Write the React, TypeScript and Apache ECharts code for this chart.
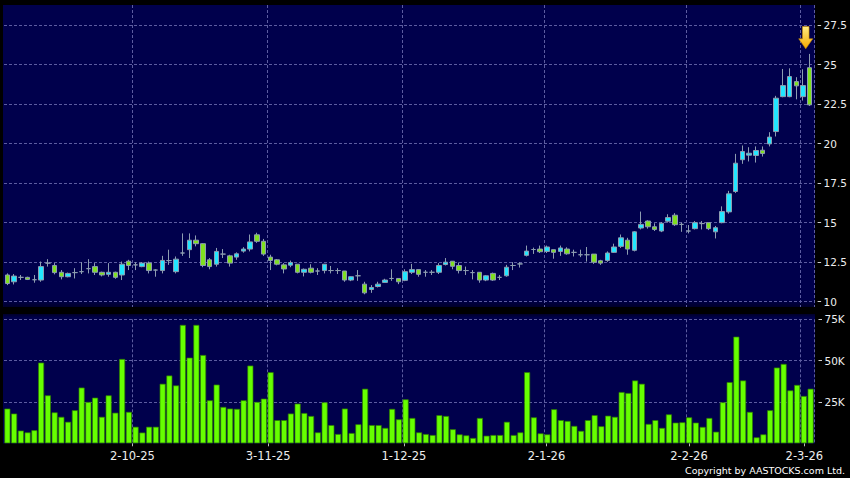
import React, { useEffect, useRef } from "react";
import * as echarts from "echarts";

// Trading days per month (day numbers)
const sep25 = [4, 5, 8, 9, 10, 11, 12, 15, 16, 17, 18, 19, 22, 23, 24, 25, 26, 29, 30];
const oct25 = [2, 3, 6, 8, 9, 10, 13, 14, 15, 16, 17, 20, 21, 22, 23, 24, 27, 28, 30, 31];
const nov25 = [3, 4, 5, 6, 7, 10, 11, 12, 13, 14, 17, 18, 19, 20, 21, 24, 25, 26, 27, 28];
const dec25 = [1, 2, 3, 4, 5, 8, 9, 10, 11, 12, 15, 16, 17, 18, 19, 22, 23, 24, 29, 30, 31];
const jan26 = [2, 5, 6, 7, 8, 9, 12, 13, 14, 15, 16, 19, 20, 21, 22, 23, 26, 27, 28, 29, 30];
const feb26 = [2, 3, 4, 5, 6, 9, 10, 11, 12, 13, 16, 20, 23, 24, 25, 26, 27];
const mar26 = [2, 3];

const categories: string[] = [
  ...sep25.map((d) => `${d}-9-25`),
  ...oct25.map((d) => `${d}-10-25`),
  ...nov25.map((d) => `${d}-11-25`),
  ...dec25.map((d) => `${d}-12-25`),
  ...jan26.map((d) => `${d}-1-26`),
  ...feb26.map((d) => `${d}-2-26`),
  ...mar26.map((d) => `${d}-3-26`),
];

const tickLabels = ["2-10-25", "3-11-25", "1-12-25", "2-1-26", "2-2-26", "2-3-26"];

const openP = [
  11.69, 11.26, 11.54, 11.54, 11.39, 11.37, 12.44, 12.29, 11.86, 11.58,
  11.84, 11.9, 12.09, 12.22, 11.86, 11.73, 11.86, 11.69, 12.56, 12.33,
  12.22, 12.44, 12.0, 11.97, 12.6, 11.9, 13.08, 13.29, 13.89, 13.67,
  12.65, 12.37, 13.01, 12.9, 12.82, 13.2, 13.33, 14.23, 13.82, 12.82,
  12.65, 12.33, 12.31, 12.37, 11.86, 12.12, 11.94, 11.97, 11.97, 11.97,
  11.94, 11.37, 11.64, 11.11, 10.77, 10.96, 11.22, 11.47, 11.47, 11.35,
  11.86, 12.03, 11.86, 11.86, 11.86, 12.35, 12.56, 12.29, 11.97, 11.84,
  11.86, 11.37, 11.79, 11.54, 11.64, 12.29, 12.39, 12.93, 13.3, 13.33,
  13.18, 13.29, 13.18, 13.33, 13.12, 12.97, 12.97, 13.01, 12.59, 12.61,
  13.12, 13.5, 13.89, 13.25, 14.66, 15.1, 14.74, 14.47, 15.09, 15.47,
  14.89, 14.47, 14.62, 14.94, 15.0, 14.42, 15.0, 15.68, 16.97, 18.98,
  19.27, 19.25, 19.58, 19.98, 20.76, 22.97, 22.97, 23.92, 22.97, 24.8,
];
const closeP = [
  11.15, 11.62, 11.54, 11.41, 11.39, 12.22, 12.44, 11.84, 11.58, 11.79,
  11.84, 11.9, 12.09, 11.86, 11.69, 11.86, 11.54, 12.37, 12.29, 12.33,
  12.44, 11.97, 12.0, 12.61, 12.6, 12.69, 13.08, 13.89, 13.67, 12.29,
  12.22, 13.18, 13.01, 12.44, 13.03, 13.33, 13.78, 13.82, 13.01, 12.61,
  12.37, 12.07, 12.48, 11.86, 12.05, 11.86, 11.94, 12.37, 11.97, 11.97,
  11.37, 11.58, 11.64, 10.56, 10.9, 11.11, 11.37, 11.47, 11.26, 11.9,
  12.03, 11.73, 11.86, 11.86, 12.29, 12.5, 12.24, 11.97, 11.97, 11.84,
  11.37, 11.64, 11.37, 11.54, 12.18, 12.29, 12.39, 13.2, 13.3, 13.16,
  13.46, 13.12, 13.4, 13.03, 13.12, 12.97, 12.97, 12.5, 12.44, 13.08,
  13.46, 14.04, 13.33, 14.42, 14.89, 14.74, 14.57, 14.96, 15.32, 14.87,
  14.89, 14.47, 15.0, 14.94, 14.62, 14.68, 15.7, 16.82, 18.76, 19.5,
  19.39, 19.56, 19.37, 20.41, 22.87, 23.67, 24.24, 23.65, 23.67, 22.45,
];
const lowP = [
  11.05, 11.09, 11.37, 11.37, 11.2, 11.26, 12.22, 11.73, 11.41, 11.54,
  11.47, 11.75, 11.79, 11.69, 11.6, 11.58, 11.45, 11.37, 12.0, 12.0,
  12.18, 11.79, 11.58, 11.79, 12.33, 11.79, 12.9, 12.76, 13.5, 12.18,
  12.05, 12.22, 12.76, 12.22, 12.65, 13.1, 13.18, 13.72, 12.9, 12.0,
  12.3, 11.79, 12.18, 11.79, 11.6, 11.79, 11.69, 11.79, 11.79, 11.75,
  11.26, 11.3, 11.32, 10.47, 10.56, 10.9, 11.2, 11.32, 11.11, 11.3,
  11.75, 11.58, 11.58, 11.69, 11.75, 12.29, 12.05, 11.79, 11.69, 11.41,
  11.2, 11.3, 11.32, 11.37, 11.58, 12.0, 12.16, 12.86, 13.02, 13.08,
  13.08, 12.72, 12.9, 12.97, 12.86, 12.82, 12.54, 12.39, 12.33, 12.52,
  13.08, 13.4, 12.97, 13.18, 14.57, 14.62, 14.47, 14.4, 15.0, 14.79,
  14.42, 14.32, 14.57, 14.57, 14.53, 14.0, 14.96, 15.57, 16.87, 18.72,
  18.87, 18.8, 19.18, 19.82, 20.45, 22.93, 22.93, 22.8, 22.72, 22.38,
];
const highP = [
  11.79, 11.75, 11.69, 11.58, 11.69, 12.54, 12.69, 12.44, 12.0, 11.84,
  12.12, 12.5, 12.69, 12.44, 11.9, 12.44, 11.9, 12.54, 12.65, 12.5,
  12.5, 12.54, 12.05, 12.9, 13.29, 12.86, 14.32, 14.32, 14.19, 13.7,
  12.76, 13.4, 13.33, 12.97, 13.12, 13.45, 14.25, 14.36, 13.97, 12.97,
  12.7, 12.44, 12.6, 12.37, 12.1, 12.37, 12.12, 12.37, 12.26, 12.12,
  11.94, 11.6, 12.0, 11.26, 11.05, 11.26, 11.45, 12.05, 11.47, 12.05,
  12.39, 12.03, 12.0, 12.0, 12.44, 12.76, 12.56, 12.48, 12.22, 12.0,
  11.86, 11.69, 11.84, 11.69, 12.33, 12.5, 12.5, 13.55, 13.42, 13.55,
  13.55, 13.29, 13.55, 13.44, 13.29, 13.29, 13.46, 13.01, 12.65, 13.18,
  13.67, 14.25, 14.04, 14.47, 15.7, 15.15, 14.96, 15.04, 15.53, 15.6,
  15.0, 14.85, 15.1, 15.1, 15.0, 14.79, 16.03, 17.01, 19.35, 19.88,
  19.77, 19.82, 19.82, 20.72, 23.02, 24.72, 24.76, 24.2, 24.7, 25.67,
];
// Volume in thousands of shares
const volumeK = [
  21, 18, 7.7, 6.6, 7.9, 48.8, 29, 18.7, 16, 13,
  20, 33.7, 25, 27.6, 16, 29, 18.5, 51, 19, 10,
  6.5, 10, 10, 36, 41, 35, 71.6, 51.8, 71.6, 53.4,
  26, 35.5, 22, 21, 20.8, 26, 47, 25, 27, 43,
  14, 14, 18, 24, 18.3, 16.5, 6.6, 24.8, 11, 5.6,
  21, 6.2, 11.5, 33, 11, 11, 9.3, 20.8, 14.5, 26.6,
  15.3, 6.6, 5.6, 5, 17, 16.5, 8.5, 5.4, 4.8, 3.2,
  15.3, 4.6, 5, 5, 13, 5, 6.6, 43, 15.7, 6,
  5.4, 20.6, 14, 13.5, 10.5, 7.5, 14, 17, 10.3, 16.7,
  16, 31, 30.4, 38, 36, 11.7, 14, 9.3, 17.5, 12.5,
  12.7, 15.7, 12.5, 9.9, 15.3, 7, 24.8, 37, 64.5, 38,
  19, 3.6, 5.4, 20, 45.8, 48, 32, 35.3, 28.6, 33,
];
const priceTicks = [10, 12.5, 15, 17.5, 20, 22.5, 25, 27.5];
const volumeTicks = [25, 50, 75];

export default function App() {
  const ref = useRef<HTMLDivElement>(null);

  useEffect(() => {
    if (!ref.current) return;
    const chart = echarts.init(ref.current, undefined, { renderer: "svg" });
    const isTick = (_i: number, v: string) => tickLabels.includes(v);
    const gridLine = { color: "#5c5ca0", width: 1, type: [3, 2] as any };
    const font = "DejaVu Sans";
    const last = categories.length - 1;

    const option: any = {
      animation: false,
      backgroundColor: "#000000",
      textStyle: { fontFamily: font },
      graphic: [
        {
          type: "rect",
          z: -10,
          silent: true,
          shape: { x: 3, y: 5, width: 812, height: 302 },
          style: {
            fill: new echarts.graphic.LinearGradient(0, 0, 0, 1, [
              { offset: 0, color: "#00004c" },
              { offset: 0.975, color: "#00004c" },
              { offset: 1, color: "#00002a" },
            ]),
          },
        },
        {
          type: "rect",
          z: -10,
          silent: true,
          shape: { x: 3, y: 314, width: 812, height: 129.5 },
          style: {
            fill: new echarts.graphic.LinearGradient(0, 0, 0, 1, [
              { offset: 0, color: "#00002a" },
              { offset: 0.03, color: "#00004c" },
              { offset: 1, color: "#00004c" },
            ]),
          },
        },
        {
          type: "text",
          z: 10,
          silent: true,
          right: 5,
          top: 465,
          style: {
            text: "Copyright by AASTOCKS.com Ltd.",
            fill: "#ffffff",
            font: `9.5px '${font}'`,
          },
        },
      ],
      grid: [
        { left: 4, right: 36, top: 5, height: 302 },
        { left: 4, right: 36, top: 25, height: 276.7 },
        { left: 4, right: 36, top: 319.3, height: 124 },
        { left: -3.65, right: 35.45, top: 319.3, height: 124 },
      ],
      xAxis: [
        {
          gridIndex: 0,
          type: "category",
          data: categories,
          boundaryGap: true,
          axisLine: { show: false },
          axisTick: { show: false },
          axisLabel: { show: false },
          splitLine: { show: true, interval: isTick, lineStyle: gridLine },
        },
        {
          gridIndex: 1,
          type: "category",
          data: categories,
          boundaryGap: true,
          show: false,
        },
        {
          gridIndex: 2,
          type: "category",
          data: categories,
          boundaryGap: true,
          axisLine: { show: false },
          axisTick: { show: false },
          axisLabel: { show: false },
          splitLine: { show: true, interval: isTick, lineStyle: gridLine },
        },
        {
          gridIndex: 3,
          type: "category",
          data: categories,
          boundaryGap: true,
          offset: 3,
          axisLine: { show: false },
          axisTick: {
            show: true,
            alignWithLabel: true,
            interval: isTick,
            length: 3,
            lineStyle: { color: "#bbbbbb" },
          },
          axisLabel: {
            show: true,
            interval: isTick,
            margin: 4,
            fontSize: 11.5,
            fontFamily: font,
            color: "#eeeeee",
          },
          splitLine: { show: false },
        },
      ],
      yAxis: [
        { gridIndex: 0, type: "value", min: 0, max: 1, show: false },
        {
          gridIndex: 1,
          type: "value",
          position: "right",
          min: priceTicks[0],
          max: priceTicks[priceTicks.length - 1],
          interval: 2.5,
          offset: 4.5,
          axisLine: { show: false },
          axisTick: { show: true, length: 3.5, lineStyle: { color: "#cccccc" } },
          axisLabel: {
            margin: 6,
            fontSize: 10.5,
            fontFamily: font,
            color: "#eeeeee",
            formatter: (v: number) => String(v),
          },
          splitLine: { show: true, lineStyle: gridLine },
        },
        {
          gridIndex: 2,
          type: "value",
          position: "right",
          min: 0,
          max: 75,
          interval: 25,
          offset: 4.5,
          axisLine: { show: false },
          axisTick: {
            show: true,
            length: 3.5,
            customValues: volumeTicks,
            lineStyle: { color: "#cccccc" },
          },
          axisLabel: {
            margin: 6,
            fontSize: 10.5,
            fontFamily: font,
            color: "#eeeeee",
            customValues: volumeTicks,
            formatter: (v: number) => (v === 0 ? "" : `${v}K`),
          },
          splitLine: { show: true, lineStyle: gridLine },
        },
        { gridIndex: 3, type: "value", min: 0, max: 1, show: false },
      ],
      series: [
        {
          type: "candlestick",
          xAxisIndex: 1,
          yAxisIndex: 1,
          barWidth: 5,
          data: openP.map((o, i) => [o, closeP[i], lowP[i], highP[i]]),
          itemStyle: {
            color: "#22e6ff",
            color0: "#80e020",
            borderColor: "#8d9db0",
            borderColor0: "#8d9db0",
            borderColorDoji: "#8d9db0",
            borderWidth: 1,
          },
          markPoint: {
            silent: true,
            symbol:
              "path://M3.7,0 L10.3,0 L10.3,12.3 L14,12.3 L7,22.3 L0,12.3 L3.7,12.3 Z",
            symbolSize: [14, 22.3],
            symbolOffset: [-4, -16.3],
            label: { show: false },
            itemStyle: {
              color: new echarts.graphic.LinearGradient(0, 0, 0, 1, [
                { offset: 0, color: "#ffec80" },
                { offset: 1, color: "#f3a800" },
              ]),
              borderColor: "#c88a00",
              borderWidth: 0.6,
            },
            data: [{ coord: [categories[last], highP[last]] }],
          },
        },
        {
          type: "bar",
          xAxisIndex: 2,
          yAxisIndex: 2,
          barWidth: 6,
          data: volumeK,
          itemStyle: {
            color: "#66ff00",
            borderColor: "#2e7d00",
            borderWidth: 0.7,
          },
        },
      ],
    };

    chart.setOption(option);
    return () => chart.dispose();
  }, []);

  return (
    <div
      ref={ref}
      style={{
        position: "fixed",
        left: 0,
        top: 0,
        width: 850,
        height: 478,
        background: "#000",
      }}
    />
  );
}
